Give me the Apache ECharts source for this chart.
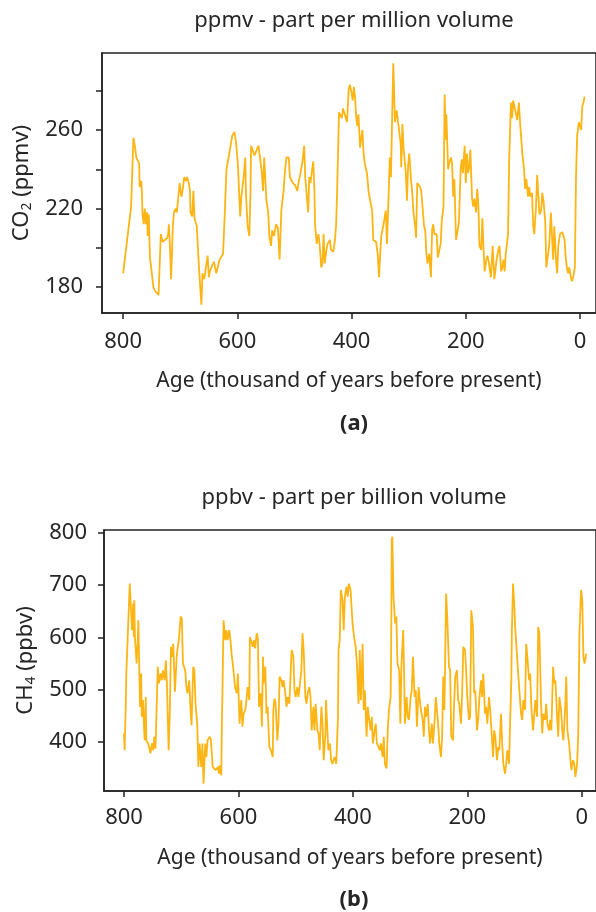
<!DOCTYPE html>
<html>
<head>
<meta charset="utf-8">
<script src="https://cdn.jsdelivr.net/npm/echarts@6/dist/echarts.min.js"></script>
<style>
html, body { margin: 0; background: #fff; }
#chart { width: 596px; height: 912px; }
</style>
</head>
<body>
<div id="chart"></div>
<script>
// CO2 record, age in thousand years before present
const co2Age = [800,786,782,779,777,772,771,769,768,767,766,764,762,760,758,757,755,754,753,751,747,744,741,738,734,731,727,723,721,720,718,716,713,711,708,706,703,701,698,696,693,690,688,685,683,682,679,677,675,671,668,665,663,661,658,652,650,648,644,641,637,634,631,628,625,622,619,613,609,605,602,599,595,593,589,586,585,582,579,577,576,574,570,568,563,561,557,555,553,550,549,546,544,541,539,536,532,529,526,524,523,519,517,514,510,508,505,503,499,495,493,490,486,483,481,479,476,474,472,469,467,465,464,461,458,456,453,451,449,447,444,442,438,436,432,429,427,425,422,419,417,415,412,408,405,403,400,398,396,394,392,390,388,385,383,381,379,377,373,370,368,364,362,359,357,354,352,350,348,344,340,338,335,333,331,328,327,324,321,319,317,314,313,311,309,305,303,301,299,296,294,292,289,287,285,280,278,275,273,271,269,267,264,261,259,257,255,251,249,247,244,242,239,237,235,234,231,229,226,224,222,220,217,215,212,209,207,205,202,200,198,196,194,192,189,187,185,182,180,178,176,173,171,169,167,164,162,160,156,153,150,148,146,143,141,138,136,134,132,130,126,124,121,119,117,114,112,110,107,105,103,101,98,96,94,91,89,87,84,82,80,77,75,73,71,68,66,64,61,59,56,54,51,49,47,45,42,40,38,35,31,27,25,23,21,19,16,14,12,9,7,5,2,0,-2,-4,-6,-8];
const co2Ppmv = [187,221,256,251,246,243,231,230,234,226,217,212,220,212,218,206,217,205,195,190,180,178,179,176,207,203,204,205,207,212,201,184,211,218,220,218,227,233,226,229,236,234,236,233,229,218,216,229,215,211,194,180,171,187,184,196,185,188,191,193,187,186,194,194,197,218,240,250,257,259,253,242,216,226,236,246,228,211,206,228,252,252,247,248,252,252,238,229,246,245,224,218,206,201,209,206,212,210,194,193,219,229,238,246,246,236,237,233,232,229,233,237,244,252,235,229,218,236,233,240,244,229,212,202,207,202,190,192,207,192,199,202,204,199,198,204,212,232,269,268,266,271,268,264,281,283,279,275,282,277,267,262,268,251,250,260,248,243,238,228,228,219,204,204,203,196,185,196,206,212,219,202,201,246,236,280,294,264,270,265,264,253,241,263,251,238,224,242,248,235,229,219,212,205,233,231,229,229,211,209,197,192,197,185,209,212,207,207,195,194,202,214,221,278,255,268,240,243,246,243,226,235,204,203,213,240,245,238,252,233,248,238,241,250,225,221,225,218,230,222,201,199,215,200,188,194,196,193,185,201,184,189,194,199,201,188,190,194,188,197,207,245,274,266,275,276,268,265,274,264,256,248,240,230,235,226,231,226,228,211,207,221,237,227,217,219,228,224,214,190,190,201,218,219,194,211,194,187,201,207,208,204,195,190,187,190,185,183,185,190,236,257,264,262,260,272,274,277];

// CH4 record
const ch4Age = [800,799,797,796,790,788,786,784,783,782,781,778,776,775,772,770,769,767,764,762,761,758,756,754,751,749,747,745,743,741,739,736,734,732,729,727,725,722,720,718,715,714,711,708,706,704,701,699,697,693,691,689,686,684,682,679,677,675,672,670,668,665,663,661,658,656,654,650,648,645,643,640,636,634,633,630,629,628,626,623,621,619,616,614,612,608,606,603,601,599,598,595,593,591,588,586,584,581,580,578,575,573,571,568,566,564,561,559,557,556,553,551,549,546,543,540,539,537,535,532,530,528,525,523,521,518,516,514,511,509,507,504,502,500,497,495,493,490,488,486,483,481,479,476,474,472,469,467,465,462,460,458,455,453,451,448,447,445,443,440,438,436,432,429,426,425,423,421,418,416,414,411,409,407,404,402,400,397,395,393,390,388,386,383,381,379,376,374,372,369,367,365,362,360,358,355,353,351,348,346,344,341,339,337,334,333,332,331,329,326,324,322,319,317,315,312,310,309,306,304,302,299,297,295,292,290,288,285,283,281,278,276,274,272,269,267,265,262,260,257,255,253,251,249,246,244,242,241,240,237,235,232,230,228,225,223,221,218,216,214,211,209,207,204,202,200,197,195,193,190,188,186,183,181,179,176,174,172,169,167,165,162,160,158,155,153,151,148,146,144,141,139,137,134,132,130,127,125,123,122,120,118,116,113,111,109,106,104,102,99,97,95,92,90,88,85,83,81,78,76,74,71,69,67,64,62,60,57,55,53,50,48,46,43,41,39,36,34,32,29,27,25,22,20,18,15,13,11,8,6,4,1,-1,-3,-5,-8];
const ch4Ppbv = [416,384,467,531,703,659,614,665,601,671,601,550,595,633,467,531,448,480,403,486,403,397,390,378,397,384,410,387,384,544,512,531,518,537,518,556,512,384,454,582,563,588,496,563,582,598,640,636,550,537,505,493,518,467,432,544,537,473,435,352,397,352,397,320,397,371,403,410,403,352,352,346,352,339,355,336,429,493,633,595,614,595,614,595,569,531,505,493,531,467,435,480,429,454,461,480,505,480,601,604,582,595,579,608,598,467,493,429,563,512,544,454,467,390,384,371,461,483,473,403,435,525,518,505,518,493,467,486,473,525,576,563,499,486,505,486,486,537,608,576,486,473,493,505,486,422,467,422,473,422,416,384,467,435,365,416,480,435,384,397,365,358,371,358,448,576,595,691,671,614,678,697,678,703,691,652,620,595,582,550,473,576,480,588,461,499,410,467,448,422,448,397,422,435,397,390,384,397,371,410,358,349,422,461,486,582,786,793,678,627,640,550,537,435,550,614,505,435,486,448,442,486,499,563,486,499,429,505,480,461,442,410,467,448,473,422,397,435,397,442,486,461,435,397,371,410,525,505,461,684,640,544,537,410,403,473,525,537,480,473,435,493,582,576,537,486,442,448,652,620,493,499,422,442,480,518,486,531,454,467,435,486,461,429,371,422,410,365,390,384,454,397,358,339,358,384,358,442,518,614,703,665,614,563,531,499,454,442,480,461,588,563,518,531,467,422,422,480,448,620,608,473,416,454,442,473,435,422,442,422,544,512,518,448,410,486,461,422,403,461,525,422,397,371,346,365,358,333,358,416,608,691,671,563,550,569,620];

const ageTicks = [0, 200, 400, 600, 800];
const co2Ticks = [180, 200, 220, 240, 260, 280];
const co2Labels = [180, 220, 260];
const ch4Ticks = [400, 500, 600, 700, 800];

const lineColor = '#fdb515';
const inkColor = '#262626';
const fontFamily = 'Noto Sans';
const fontSize = 22;

const pairs = (xs, ys) => xs.map((x, i) => [x, ys[i]]);

const makeX = (gridIndex) => ({
    type: 'value',
    gridIndex: gridIndex,
    inverse: true,
    min: gridIndex === 0 ? -28 : -25,
    max: gridIndex === 0 ? 837 : 835,
    name: 'Age (thousand of years before present)',
    nameLocation: 'middle',
    nameGap: gridIndex === 0 ? 58 : 57,
    nameTextStyle: { color: inkColor, fontSize: 21, fontFamily: fontFamily },
    axisLine: { show: true, onZero: false, lineStyle: { color: '#222', width: 1.5 } },
    axisTick: { show: true, customValues: ageTicks, length: 6, lineStyle: { color: '#222', width: 1.5 } },
    axisLabel: { customValues: ageTicks, margin: gridIndex === 0 ? 18 : 16, color: inkColor, fontSize: fontSize, fontFamily: fontFamily },
    splitLine: { show: false }
});

const makeY = (gridIndex, min, max, name, ticks, labels, gap, margin) => ({
    type: 'value', gridIndex: gridIndex, min: min, max: max,
    name: name, nameLocation: 'middle', nameGap: gap,
    nameTextStyle: { color: inkColor, fontSize: fontSize, fontFamily: fontFamily, lineHeight: 26,
        rich: { sub: { fontSize: 14, fontFamily: fontFamily, color: inkColor, verticalAlign: 'bottom', lineHeight: 15 } } },
    axisLine: { show: true, onZero: false, lineStyle: { color: '#222', width: 1.5 } },
    axisTick: { show: true, customValues: ticks, length: 6, lineStyle: { color: '#222', width: 1.5 } },
    axisLabel: { customValues: labels, margin: margin, color: inkColor, fontSize: fontSize, fontFamily: fontFamily },
    splitLine: { show: false }
});

const titleStyle = (bold) => ({ color: inkColor, fontSize: fontSize, fontWeight: bold ? 'bold' : 'normal', fontFamily: fontFamily });

const chart = echarts.init(document.getElementById('chart'));

const option = {
    animation: false,
    backgroundColor: '#fff',
    title: [
        { text: 'ppmv - part per million volume', left: 349, top: 5, textAlign: 'center', textStyle: titleStyle(false) },
        { text: '(a)', left: 349, top: 408, textAlign: 'center', textStyle: titleStyle(true) },
        { text: 'ppbv - part per billion volume', left: 349, top: 482, textAlign: 'center', textStyle: titleStyle(false) },
        { text: '(b)', left: 349, top: 884, textAlign: 'center', textStyle: titleStyle(true) }
    ],
    grid: [
        { left: 102, top: 53, width: 495, height: 260, show: true, borderColor: '#222', borderWidth: 1.5 },
        { left: 104, top: 530, width: 493, height: 261, show: true, borderColor: '#222', borderWidth: 1.5 }
    ],
    xAxis: [makeX(0), makeX(1)],
    yAxis: [
        makeY(0, 166.8, 299.2, 'CO{sub|2} (ppmv)', co2Ticks, co2Labels, 67, 19),
        makeY(1, 306, 805.7, 'CH{sub|4} (ppbv)', ch4Ticks, ch4Ticks, 64, 17)
    ],
    series: [
        {
            name: 'CO2', type: 'line', xAxisIndex: 0, yAxisIndex: 0,
            data: pairs(co2Age, co2Ppmv),
            showSymbol: false,
            lineStyle: { color: lineColor, width: 1.8 }
        },
        {
            name: 'CH4', type: 'line', xAxisIndex: 1, yAxisIndex: 1,
            data: pairs(ch4Age, ch4Ppbv),
            showSymbol: false,
            lineStyle: { color: lineColor, width: 1.8 }
        }
    ]
};

chart.setOption(option);
</script>
</body>
</html>
